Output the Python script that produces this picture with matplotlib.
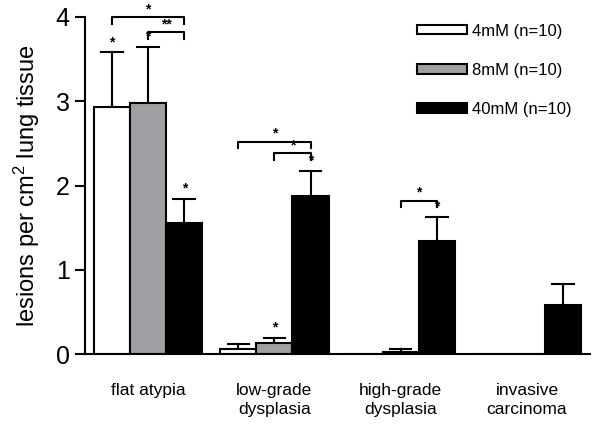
import matplotlib
matplotlib.use("Agg")
import matplotlib.pyplot as plt
import numpy as np

plt.rcParams["font.family"] = ["Liberation Sans", "DejaVu Sans"]
plt.rcParams["mathtext.fontset"] = "custom"
plt.rcParams["mathtext.rm"] = "Liberation Sans"
plt.rcParams["mathtext.it"] = "Liberation Sans"

# data
categories = ["flat atypia", "low-grade\ndysplasia", "high-grade\ndysplasia", "invasive\ncarcinoma"]
series = ["4mM (n=10)", "8mM (n=10)", "40mM (n=10)"]
mean_4mM = [2.93, 0.06, 0.0, 0.0]
mean_8mM = [2.98, 0.13, 0.02, 0.0]
mean_40mM = [1.56, 1.87, 1.34, 0.58]
err_4mM = [0.65, 0.06, 0.0, 0.0]
err_8mM = [0.66, 0.06, 0.04, 0.0]
err_40mM = [0.28, 0.30, 0.29, 0.25]

# stars above error bars: (group, series index)
bar_stars = [(0, 0), (0, 1), (0, 2), (1, 1), (1, 2), (2, 2)]
# brackets: (group, from series, to series, height, label)
brackets = [
    (0, 0, 2, 4.00, "*"),
    (0, 1, 2, 3.82, "**"),
    (1, 0, 2, 2.52, "*"),
    (1, 1, 2, 2.38, "*"),
    (2, 1, 2, 1.82, "*"),
]

colors = ["white", "#a0a0a4", "black"]
means = [mean_4mM, mean_8mM, mean_40mM]
errs = [err_4mM, err_8mM, err_40mM]

fig = plt.figure(figsize=(6.01, 4.30), dpi=100)
ax = fig.add_axes([0.1414, 0.1767, 0.8406, 0.7838])

x = np.arange(len(categories))
w = 36 / 126.0
offsets = [-w, 0, w]

for k in range(3):
    xs = x + offsets[k]
    ax.bar(xs, means[k], width=w, color=colors[k], edgecolor="black",
           linewidth=1.5, label=series[k], zorder=2)
    for i in range(len(categories)):
        if means[k][i] <= 0:
            continue
        top = means[k][i] + errs[k][i]
        ax.plot([xs[i], xs[i]], [means[k][i], top], color="black", lw=1.5, zorder=1)
        ax.plot([xs[i] - 0.085, xs[i] + 0.085], [top, top], color="black", lw=1.5, zorder=3)

for g, k in bar_stars:
    top = means[k][g] + errs[k][g]
    ax.text(x[g] + offsets[k], top + 0.04, "*", ha="center", va="bottom",
            fontsize=10, fontweight="bold")

for g, k1, k2, h, lab in brackets:
    x1 = x[g] + offsets[k1]
    x2 = x[g] + offsets[k2]
    ax.plot([x1, x1, x2, x2], [h - 0.08, h, h, h - 0.08], color="black",
            lw=1.5, clip_on=False)
    ax.text((x1 + x2) / 2, h + 0.01, lab, ha="center", va="bottom",
            fontsize=10, fontweight="bold")

ax.set_xlim(-0.5, 3.5)
ax.set_ylim(0, 4)
ax.set_yticks([0, 1, 2, 3, 4])
ax.set_yticklabels(["0", "1", "2", "3", "4"], fontsize=18)
ax.set_xticks(x)
ax.set_xticklabels(categories, fontsize=12.5, linespacing=1.3)
ax.tick_params(axis="x", length=0, pad=21)
ax.tick_params(axis="y", length=7, width=1.5, pad=4)
ax.set_ylabel("lesions per cm$^2$ lung tissue", fontsize=17, labelpad=10)

for s in ["top", "right"]:
    ax.spines[s].set_visible(False)
ax.spines["left"].set_linewidth(1.5)
ax.spines["bottom"].set_linewidth(1.5)

ax.legend(loc="upper left", bbox_to_anchor=(0.644, 1.0), frameon=False,
          fontsize=12, handlelength=3.0, handleheight=0.5, labelspacing=1.45,
          handletextpad=0.3, borderaxespad=0)

fig.savefig("out.png", dpi=100)
